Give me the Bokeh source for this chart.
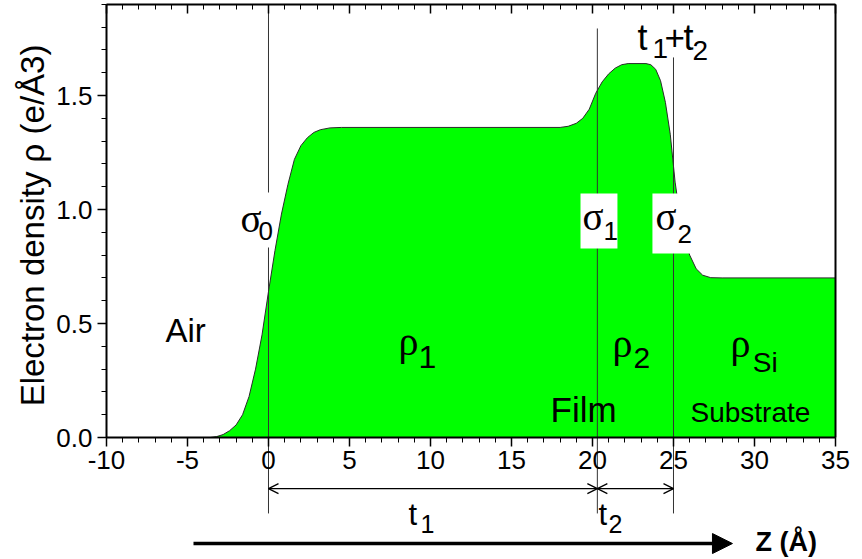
from math import pi
from bokeh.plotting import figure
from bokeh.models import (Range1d, LinearAxis, SingleIntervalTicker, NumeralTickFormatter,
                          Label, Arrow, OpenHead, NormalHead)
from bokeh.embed import file_html
from bokeh.resources import INLINE

# ---- data: electron density profile ----
z = [-10, -3.6, -3.2, -2.8, -2.4, -2.0, -1.6, -1.2, -0.8, -0.4, 0.0, 0.4, 0.8, 1.2, 1.6, 2.0,
     2.4, 2.8, 3.2, 3.8, 4.5, 18.0, 18.5, 19.0, 19.4, 19.8, 20.2, 20.6, 21.0, 21.4, 21.8, 22.2,
     23.3, 23.6, 23.9, 24.2, 24.5, 24.8, 25.1, 25.4, 25.7, 26.0, 26.4, 26.8, 27.3, 28.0, 35.0]
rho = [0, 0, 0.004, 0.013, 0.03, 0.055, 0.1, 0.18, 0.3, 0.45, 0.64, 0.82, 0.98, 1.11, 1.22, 1.28,
       1.315, 1.338, 1.35, 1.358, 1.36, 1.36, 1.365, 1.378, 1.40, 1.44, 1.51, 1.56, 1.595, 1.62,
       1.635, 1.64, 1.64, 1.635, 1.615, 1.565, 1.47, 1.33, 1.12, 0.97, 0.87, 0.80, 0.74, 0.712,
       0.701, 0.70, 0.70]

t1 = 20.3
t2 = 4.7
x_ticks_step = 5
y_ticks_step = 0.5
x_min, x_max = -10, 35
y_min, y_max = 0, 1.9

p = figure(width=862, height=559, x_range=Range1d(-16.543, 36.667), y_range=Range1d(-0.535, 1.9167),
           x_axis_type=None, y_axis_type=None, min_border=0, toolbar_location=None,
           output_backend="svg", outline_line_color=None)
p.background_fill_color = "white"
p.border_fill_color = "white"

GREEN = "#00ff00"
p.varea(x=z, y1=0, y2=rho, fill_color=GREEN)
p.line(x=z, y=rho, line_color="#2a2a2a", line_width=1)

# vertical interface lines
p.segment(x0=[0, t1, t1 + t2], y0=[1.9, 1.794, 1.667], x1=[0, t1, t1 + t2], y1=[-0.333] * 3,
          line_color="#333333", line_width=1)

# white boxes behind sigma labels
p.quad(left=[-1.85, 19.26, 23.70], right=[0.31, 21.54, 26.05],
       bottom=[0.833, 0.829, 0.807], top=[1.075, 1.070, 1.070],
       fill_color="white", line_color=None)

FONT = "Liberation Sans"
GREEK = "Liberation Serif"

def axis_common(ax):
    ax.axis_line_width = 2
    ax.axis_line_color = "black"
    ax.major_tick_line_width = 1.5
    ax.minor_tick_line_width = 1
    ax.major_label_text_font = FONT
    ax.major_label_text_font_size = "26px"
    ax.major_label_text_color = "black"

bottom = LinearAxis(fixed_location=0, bounds=(x_min, x_max),
                    ticker=SingleIntervalTicker(interval=x_ticks_step, num_minor_ticks=5),
                    major_label_overrides={-10: "-10", -5: "-5"})
axis_common(bottom)
bottom.major_tick_out, bottom.major_tick_in = 9, 0
bottom.minor_tick_out, bottom.minor_tick_in = 5, 0
bottom.major_label_standoff = 4
p.add_layout(bottom, "below")

left = LinearAxis(fixed_location=x_min, bounds=(y_min, y_max),
                  ticker=SingleIntervalTicker(interval=y_ticks_step, num_minor_ticks=5),
                  formatter=NumeralTickFormatter(format="0.0"))
axis_common(left)
left.major_tick_out, left.major_tick_in = 9, 0
left.minor_tick_out, left.minor_tick_in = 5, 0
left.major_label_standoff = 5
p.add_layout(left, "left")

top = LinearAxis(fixed_location=y_max, bounds=(x_min, x_max),
                 ticker=SingleIntervalTicker(interval=x_ticks_step, num_minor_ticks=5))
axis_common(top)
top.major_tick_out, top.major_tick_in = 0, 9
top.minor_tick_out, top.minor_tick_in = 0, 5
top.major_label_text_color = None
p.add_layout(top, "above")

right = LinearAxis(fixed_location=x_max, bounds=(y_min, y_max))
axis_common(right)
right.major_tick_out = right.major_tick_in = 0
right.minor_tick_out = right.minor_tick_in = 0
right.major_label_text_color = None
p.add_layout(right, "right")

PX_PER_UNIT_Y = 228.0

def lab(x, y, text, size, font=FONT, style="normal", **kw):
    # raise baseline to compensate the renderer's alphabetic-baseline offset
    if kw.get("baseline", "alphabetic") == "alphabetic":
        y = y + 0.36 * size / PX_PER_UNIT_Y
    p.add_layout(Label(x=x, y=y, text=text, text_font=font, text_font_size=f"{size}px",
                       text_font_style=style, text_color="black", text_align=kw.get("align", "left"),
                       text_baseline=kw.get("baseline", "alphabetic"), angle=kw.get("angle", 0)))

# y axis title
lab(-14.57, 0.93, "Electron density ρ (e/Å3)", 33, align="center", baseline="middle", angle=pi / 2)

# region labels
lab(-6.36, 0.417, "Air", 33)
lab(8.02, 0.360, "ρ", 40, GREEK)
lab(9.26, 0.303, "1", 32)
lab(21.23, 0.351, "ρ", 40, GREEK)
lab(22.53, 0.303, "2", 30)
lab(28.52, 0.351, "ρ", 40, GREEK)
lab(29.9, 0.285, "Si", 28)
lab(17.41, 0.066, "Film", 35)
lab(26.05, 0.066, "Substrate", 28)

# sigma labels
lab(-1.73, 0.899, "σ", 39, GREEK)
lab(-0.62, 0.864, "0", 26)
lab(19.38, 0.908, "σ", 39, GREEK)
lab(20.68, 0.864, "1", 26)
lab(23.89, 0.908, "σ", 39, GREEK)
lab(25.25, 0.851, "2", 26)

# t1+t2
lab(22.78, 1.697, "t", 36)
lab(23.70, 1.662, "1", 28)
lab(24.45, 1.697, "+", 35)
lab(25.62, 1.697, "t", 36)
lab(26.17, 1.654, "2", 28)

# thickness arrows
for xs, xe in [(0, t1), (t1, t1 + t2)]:
    p.add_layout(Arrow(x_start=xs, y_start=-0.224, x_end=xe, y_end=-0.224,
                       start=OpenHead(size=10, line_width=1.3), end=OpenHead(size=10, line_width=1.3),
                       line_width=1.2))
lab(8.64, -0.386, "t", 31)
lab(9.38, -0.417, "1", 25)
lab(20.37, -0.386, "t", 31)
lab(20.99, -0.417, "2", 25)

# Z direction arrow
p.add_layout(Arrow(x_start=-4.63, y_start=-0.465, x_end=28.64, y_end=-0.465,
                   end=NormalHead(size=20, fill_color="black", line_color="black"),
                   line_width=3.5))
lab(30.06, -0.500, "Z (Å)", 27, style="bold")

open("out.html", "w").write(file_html(p, INLINE))
